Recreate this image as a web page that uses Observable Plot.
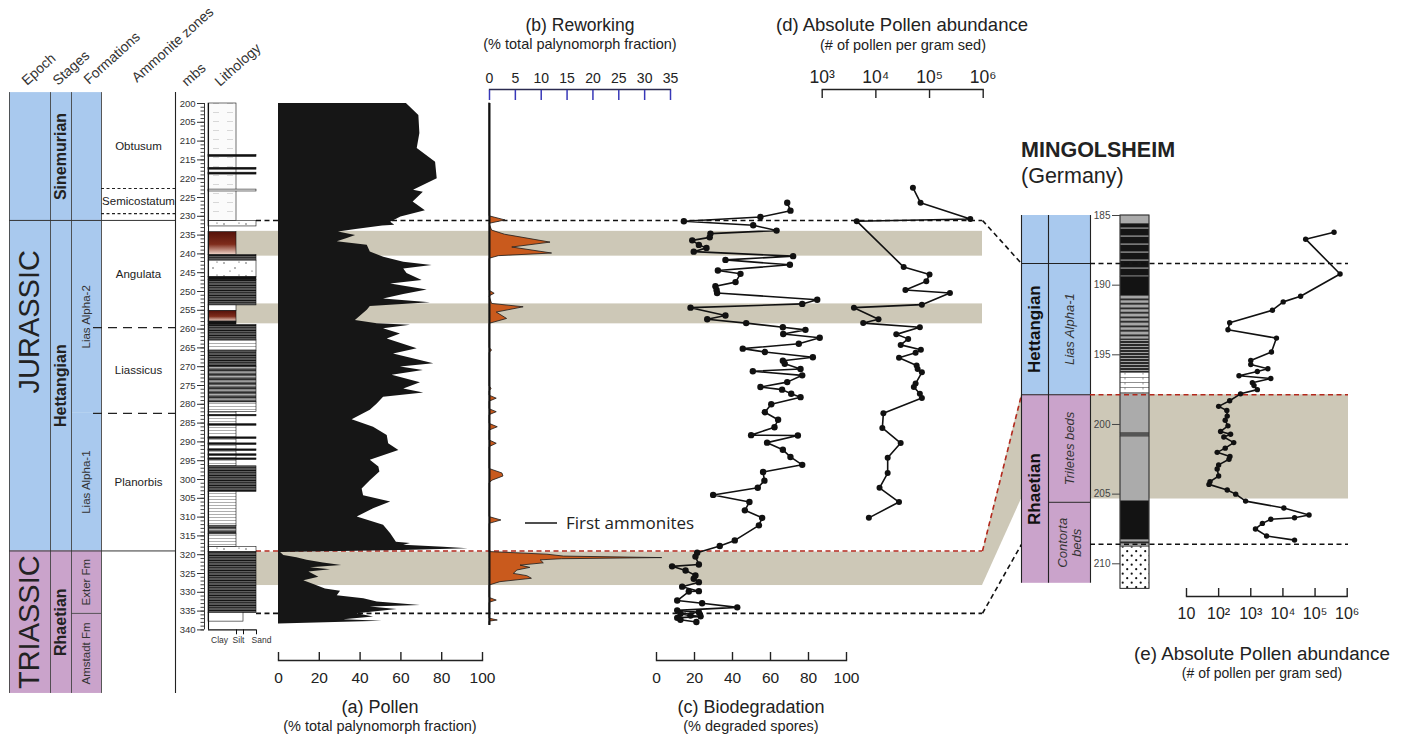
<!DOCTYPE html>
<html><head><meta charset="utf-8">
<script src="https://cdn.jsdelivr.net/npm/d3@7"></script>
<script src="https://cdn.jsdelivr.net/npm/@observablehq/plot@0.6"></script>
<style>
html,body{margin:0;padding:0;background:#fff;overflow:hidden}
#root{position:relative;width:1405px;height:735px;font-family:'Liberation Sans',Arial,sans-serif}
#root svg{position:absolute;left:0;top:0;max-width:none}
</style></head>
<body>
<svg width="0" height="0" style="position:absolute">
<defs>
 <linearGradient id="redGrad" x1="0" y1="0" x2="0" y2="1">
  <stop offset="0" stop-color="#55120a"/><stop offset="0.55" stop-color="#7e2c1b"/><stop offset="1" stop-color="#efd6ca"/>
 </linearGradient>
 <pattern id="claystone" patternUnits="userSpaceOnUse" width="14" height="9">
  <rect width="14" height="9" fill="#fbfbfb"/><line x1="3" x2="9" y1="4.5" y2="4.5" stroke="#c8c8c8" stroke-width="0.7"/>
 </pattern>
 <pattern id="sandDots" patternUnits="userSpaceOnUse" width="22" height="13">
  <rect width="22" height="13" fill="#fff"/><circle cx="4" cy="3" r="0.7" fill="#333"/><circle cx="15" cy="8" r="0.7" fill="#333"/><circle cx="10" cy="11" r="0.6" fill="#333"/><circle cx="19" cy="2" r="0.6" fill="#333"/>
 </pattern>
 <pattern id="darkStripes" patternUnits="userSpaceOnUse" width="12" height="5">
  <rect width="12" height="5" fill="#151515"/><rect y="1.4" width="12" height="0.8" fill="#8c8c8c"/><rect y="3.7" width="12" height="0.6" fill="#eeeeee"/>
 </pattern>
 <pattern id="midStripes" patternUnits="userSpaceOnUse" width="12" height="4.5">
  <rect width="12" height="4.5" fill="#6e6e6e"/><rect y="0.5" width="12" height="1.2" fill="#161616"/><rect y="3" width="12" height="0.6" fill="#dddddd"/>
 </pattern>
 <pattern id="lightStripes" patternUnits="userSpaceOnUse" width="12" height="3">
  <rect width="12" height="3" fill="#ffffff"/><rect y="1" width="12" height="0.8" fill="#9a9a9a"/>
 </pattern>
 <pattern id="mBlackGray" patternUnits="userSpaceOnUse" width="10" height="8">
  <rect width="10" height="8" fill="#151515"/><rect y="3.5" width="10" height="1.2" fill="#a0a0a0"/>
 </pattern>
 <pattern id="mStripes" patternUnits="userSpaceOnUse" width="10" height="4.5">
  <rect width="10" height="4.5" fill="#a9a9a9"/><rect y="1.5" width="10" height="1.6" fill="#141414"/>
 </pattern>
 <pattern id="mStripesDense" patternUnits="userSpaceOnUse" width="10" height="3">
  <rect width="10" height="3" fill="#2a2a2a"/><rect y="1" width="10" height="0.9" fill="#b0b0b0"/>
 </pattern>
 <pattern id="mMarl" patternUnits="userSpaceOnUse" width="18" height="5">
  <rect width="18" height="5" fill="#fff"/><line x1="0" x2="18" y1="2.5" y2="2.5" stroke="#444" stroke-width="0.6"/><line x1="9" x2="9" y1="2.5" y2="4.5" stroke="#444" stroke-width="0.6"/>
 </pattern>
 <pattern id="mSand" patternUnits="userSpaceOnUse" width="9" height="9">
  <rect width="9" height="9" fill="#fff"/><circle cx="2.2" cy="2.2" r="1.1" fill="#111"/><circle cx="6.7" cy="6.7" r="1.1" fill="#111"/>
 </pattern>
</defs></svg>
<div id="root"></div>
<script>
const W = 1405, H = 735;
const FONT = "'Liberation Sans', Arial, sans-serif";

// ---------------- DATA ----------------
const epochs = [
  {name: "JURASSIC", top: 197.1, base: 319.0, era: "J"},
  {name: "TRIASSIC", top: 319.0, base: 356.9, era: "T"}
];
const stages = [
  {name: "Sinemurian", top: 197.1, base: 231.1, era: "J"},
  {name: "Hettangian", top: 231.1, base: 319.0, era: "J"},
  {name: "Rhaetian", top: 319.0, base: 356.9, era: "T"}
];
const formations = [
  {name: "", top: 197.1, base: 231.1, era: "J"},
  {name: "Lias Alpha-2", top: 231.1, base: 282.4, era: "J"},
  {name: "Lias Alpha-1", top: 282.4, base: 319.0, era: "J"},
  {name: "Exter Fm", top: 319.0, base: 335.6, era: "T"},
  {name: "Amstadt Fm", top: 335.6, base: 356.9, era: "T"}
];
const ammoniteZones = [
  {name: "Obtusum", top: 200.0, base: 222.6},
  {name: "Semicostatum", top: 222.6, base: 229.3},
  {name: "Angulata", top: 231.1, base: 259.6},
  {name: "Liassicus", top: 259.6, base: 282.4},
  {name: "Planorbis", top: 282.4, base: 319.0}
];
const zoneBoundaries = [
  {d: 222.6, kind: "short"}, {d: 229.3, kind: "short"}, {d: 231.1, kind: "solid"},
  {d: 259.6, kind: "long"}, {d: 282.4, kind: "long"}, {d: 319.0, kind: "solid"}
];
const formationBoundaries = [{d: 335.6}];
const depthTicks = [200,205,210,215,220,225,230,235,240,245,250,255,260,265,270,275,280,285,290,295,300,305,310,315,320,325,330,335,340];

const mainBeds = [
  {top: 200.0, base: 231.2, size: "clay", type: "claystone"},
  {top: 213.7, base: 214.2, size: "sand", type: "black"},
  {top: 217.1, base: 217.6, size: "sand", type: "black"},
  {top: 218.4, base: 218.9, size: "sand", type: "black"},
  {top: 222.9, base: 223.4, size: "sand", type: "white"},
  {top: 231.3, base: 232.7, size: "sand", type: "sand"},
  {top: 234.2, base: 240.3, size: "clay", type: "red"},
  {top: 240.3, base: 241.8, size: "sand", type: "darkStripes"},
  {top: 241.8, base: 246.2, size: "sand", type: "sand"},
  {top: 246.2, base: 247.0, size: "sand", type: "black"},
  {top: 247.0, base: 253.7, size: "sand", type: "darkStripes"},
  {top: 253.7, base: 255.2, size: "clay", type: "white"},
  {top: 255.2, base: 258.0, size: "clay", type: "red"},
  {top: 258.0, base: 258.9, size: "clay", type: "black"},
  {top: 258.9, base: 263.0, size: "sand", type: "darkStripes"},
  {top: 263.0, base: 265.9, size: "sand", type: "lightStripes"},
  {top: 265.9, base: 270.0, size: "sand", type: "darkStripes"},
  {top: 270.0, base: 279.5, size: "sand", type: "midStripes"},
  {top: 279.5, base: 282.0, size: "sand", type: "lightStripes"},
  {top: 282.0, base: 296.5, size: "clay", type: "lightStripes"},
  {top: 282.8, base: 283.2, size: "sand", type: "black"},
  {top: 285.3, base: 285.7, size: "sand", type: "black"},
  {top: 288.8, base: 289.2, size: "sand", type: "black"},
  {top: 290.4, base: 290.8, size: "sand", type: "black"},
  {top: 292.0, base: 292.4, size: "sand", type: "black"},
  {top: 293.3, base: 293.7, size: "sand", type: "black"},
  {top: 294.4, base: 294.8, size: "sand", type: "black"},
  {top: 296.5, base: 303.3, size: "sand", type: "darkStripes"},
  {top: 303.3, base: 312.3, size: "clay", type: "lightStripes"},
  {top: 312.3, base: 314.6, size: "clay", type: "midStripes"},
  {top: 314.6, base: 318.0, size: "clay", type: "lightStripes"},
  {top: 318.0, base: 319.3, size: "sand", type: "sand"},
  {top: 319.3, base: 335.5, size: "sand", type: "darkStripes"},
  {top: 335.5, base: 337.8, size: "silt", type: "white"}
];
const grainLabels = ["Clay", "Silt", "Sand"];

const bands = [{top: 234.0, base: 240.6}, {top: 253.3, base: 258.6}, {top: 319.3, base: 328.2}];
const correlations = [
  {main: 231.1, ming: 188.45, kind: "black"},
  {main: 319.0, ming: 197.87, kind: "red"},
  {main: 335.6, ming: 208.6, kind: "black"}
];
const bandLink = {mainTop: 319.3, mainBase: 328.2, mingTop: 197.87, mingBase: 205.35};

// (a) pollen % : [depth mbs, %]
const pollen = [[200,62.7],[203.2,68.8],[208,69.3],[212,68],[215.6,77],[220,77.8],[223.1,66.2],[223.6,71],[226.2,66],[228.5,72],[230.2,60],[231.6,55],[232.4,57],[232.6,51],[233.5,38],[234.2,29.4],[235.1,37.8],[235.9,33.7],[236.8,28.8],[237.7,43.5],[239.5,45],[240.9,51.6],[242.2,61.4],[243.1,75.3],[244,61.4],[245.2,63],[247.1,70.4],[248,55],[249.6,72.9],[250.8,61.4],[252,51.5],[253,74.5],[254,45],[255,43.5],[257.7,37.7],[258.6,48.4],[259,64.7],[259.9,51.5],[261.3,59.8],[262.6,53.3],[265.2,68],[266.6,56.4],[269.2,76.1],[270.1,59.8],[271,71],[272.3,55.7],[274.3,69.6],[275.9,61.4],[277,71.2],[278.1,51.5],[279.9,48.4],[281.6,45],[284.1,36.1],[286.1,46.6],[288.3,53.3],[290.5,54],[292.3,59],[294.9,45],[296.7,49.2],[298,49.7],[300.3,45],[302.5,41],[304.3,41.7],[306,55],[307.8,46.6],[310,38.6],[312.2,51.5],[314.4,55],[316.7,57.8],[317,64.7],[317.5,61.4],[318,81],[318.4,93],[318.9,61],[319.4,1],[320.2,2.6],[320.8,9],[321.5,14],[322.2,22],[322.9,31],[323.5,15.7],[324,25.5],[324.6,14.9],[326,19.8],[326.9,12.4],[327.9,17.3],[329.1,23],[329.7,30.4],[330.9,28.8],[331.7,41.8],[332.6,48.4],[333.5,69.6],[333.9,45],[334.6,58.2],[335.7,38.6],[336.6,46.6],[337.3,32],[337.7,50.8],[338.4,0]];

// (b) reworking % : [depth, %]
const reworking = [[200,0],[230,0],[231.1,3.1],[232,0],[233.8,0.5],[234.9,3],[237,11.8],[238.3,4.4],[239.9,12.1],[240.6,1.8],[241.3,0],[249.8,0],[250.6,1],[251.3,0],[253.3,0.5],[254.2,6.6],[255.6,1.4],[257.3,3.4],[258.6,0],[265,0],[265.7,0.5],[266.4,0],[275.2,0],[275.9,0.4],[276.6,0],[277.7,0],[278.5,1.4],[279.3,0],[281.3,0],[282.1,1.4],[282.9,0],[285.2,0],[286.1,1.6],[287,0],[289.6,0],[290.5,1.4],[291.4,0],[297.2,0],[298.4,2.5],[299.2,2.7],[300.3,0.6],[301,0],[310,0],[310.9,2.3],[311.8,0],[319.3,0],[320,11.2],[320.5,14.4],[320.9,33.4],[321.2,14],[321.5,9.9],[322.3,10.5],[322.9,6],[323.5,7.9],[324.2,5.4],[325.1,4.7],[325.7,7.3],[326.4,8.2],[327.3,2.1],[328.2,0],[331.5,0],[332.2,1.4],[332.8,0],[337,0],[337.5,1.6],[337.8,0],[338.8,0]];

// (c) biodegradation % : [depth, %]
const biodegradation = [[226.4,68.8],[228.5,70.5],[230.2,54.7],[231.3,14.4],[232.4,50.9],[233.8,63.2],[234.6,28.4],[235.6,28],[236.4,18.8],[237.6,22.3],[238.4,26.3],[239.4,19.6],[240.6,71.9],[241.6,36.3],[242.9,70.2],[244.4,32.3],[245.3,44.2],[247.5,41.6],[248.6,31],[249.6,31.6],[250.4,31.9],[252.2,84.6],[253.3,76.7],[254.3,17.9],[256.4,36.3],[257.4,26.7],[258.4,47.2],[259.5,66.5],[260.2,78.4],[261.3,66.7],[262.3,85.9],[263.9,74.9],[265.2,45.4],[266.1,57],[267.5,82.3],[268.4,66.5],[269.2,67.5],[270.6,75.8],[271.2,50.7],[272.3,76.7],[274.1,68.8],[275.4,54.7],[276.1,66.1],[277.2,70.9],[278.1,75.8],[280,60.4],[282.1,57],[284.1,64],[286.1,62.1],[288.2,49.8],[288.3,74.4],[290.2,58.2],[292.1,66.5],[294,70.5],[296.1,76.7],[298,56.1],[300.3,56.8],[302.2,53.3],[304.1,29.8],[306,48.9],[308.2,46.5],[310.2,55.6],[312.2,53.9],[316.2,41.2],[317.7,33.3],[319.5,21.4],[320.5,20.5],[322.6,22.3],[323.1,8.2],[324.2,15.3],[325.5,20.5],[326.4,19.6],[327.3,22.3],[328.5,13.5],[329.7,22.3],[329.8,17],[332.2,10.9],[332.9,24],[334,42.5],[334.8,10.9],[335.3,22.3],[335.7,12.6],[336.2,17.9],[336.4,23.2],[336.8,10.9],[337.3,12.6],[337.9,21]];

// (d) absolute pollen abundance (grains / g) : [depth, value]
const absolutePollen = [[222.4,49000],[226.4,68000],[230.7,575000],[231.3,4400],[243.5,33000],[245.5,100000],[247.3,87000],[249.6,35500],[250.4,240000],[253.5,72000],[254.3,3900],[257.4,11200],[258.4,5800],[259.5,66000],[261.4,24000],[262.6,40000],[264.2,29000],[265.5,69000],[266.3,55000],[267.6,27000],[269.7,57500],[270.6,60000],[271.5,72000],[274.5,55000],[275.4,51000],[277.2,66000],[278.3,72000],[282.4,13800],[286.3,13200],[290.3,29000],[294.2,16600],[298.3,16600],[302.2,11700],[306.0,27000],[310.2,7400]];

// Mingolsheim
const mingStages = [
  {name: "", top: 185, base: 188.45, era: "J"},
  {name: "Hettangian", top: 188.45, base: 197.87, era: "J"},
  {name: "Rhaetian", top: 197.87, base: 211.4, era: "T"}
];
const mingFormations = [
  {name: "", top: 185, base: 188.45, era: "J"},
  {name: "Lias Alpha-1", top: 188.45, base: 197.87, era: "J"},
  {name: "Triletes beds", top: 197.87, base: 205.58, era: "T"},
  {name: "Contorta\nbeds", top: 205.58, base: 211.4, era: "T"}
];
const mingBoundaries = [{d: 188.45, level: "stage"}, {d: 197.87, level: "stage"}, {d: 205.58, level: "formation"}];
const mingTicks = [185, 190, 195, 200, 205, 210];
const mingBeds = [
  {top: 185.0, base: 185.6, type: "gray"},
  {top: 185.6, base: 189.4, type: "blackGray"},
  {top: 189.4, base: 190.8, type: "black"},
  {top: 190.8, base: 193.9, type: "stripes"},
  {top: 193.9, base: 196.3, type: "stripesDense"},
  {top: 196.3, base: 197.8, type: "marl"},
  {top: 197.8, base: 200.6, type: "gray"},
  {top: 200.6, base: 200.9, type: "darkGray"},
  {top: 200.9, base: 205.5, type: "gray"},
  {top: 205.5, base: 208.3, type: "black"},
  {top: 208.3, base: 208.8, type: "stripes"},
  {top: 208.8, base: 211.8, type: "sand"}
];
const mingBands = [{top: 197.87, base: 205.35}];
// (e) absolute pollen abundance, Mingolsheim : [depth, value]
const absolutePollenMing = [[186.2,390000],[186.7,51000],[189.2,600000],[190.8,35500],[191.2,10200],[191.8,4700],[192.7,220],[193.2,195],[193.8,6300],[194.8,4400],[195.4,1000],[195.7,1000],[196.0,3400],[196.2,1600],[196.5,430],[196.7,4200],[197.0,1120],[197.2,1260],[197.5,1600],[197.8,480],[198.3,220],[198.7,100],[199.0,180],[199.4,185],[199.7,160],[200.1,195],[200.5,115],[200.7,235],[200.9,145],[201.3,295],[201.7,160],[202.0,90],[202.3,225],[202.5,210],[202.9,100],[203.2,90],[203.7,100],[204.1,54],[204.3,50],[204.7,185],[205.0,340],[205.5,690],[206.0,10700],[206.5,65000],[206.7,23000],[206.8,4200],[207.1,2300],[207.5,1400],[208.0,3100],[208.3,23000]];

// ---------------- LAYOUT & STYLE ----------------
const L = {
  epoch: [9, 50], stage: [50, 71], formation: [71, 101], zone: [101, 175],
  depthAxisX: 204,
  litho: {left: 208, clay: 236, silt: 243, sand: 256},
  bandLeft: 236, lineLeft: 256, bandRight: 982,
  pollen: [278, 482], rework: [489, 670], bio: [656, 846], abund: [821.7, 982.7],
  mingStage: [1021, 1048], mingFormation: [1048, 1090], mingLitho: [1120, 1149],
  mingBandLeft: 1090, mingBandRight: 1348, abundE: [1186, 1346.7],
  mainY: [103, 629.4], mingY: [215, 563.3],
  bottomAxis: 660, topAxis: 89, eAxis: 596
};
const C = {J: "#a9c9ee", T: "#caa3cb", band: "#cdc8b7", orange: "#c95a1d", red: "#b3281c", black: "#161616", ink: "#222"};
const LITHO_FILL = {claystone: "url(#claystone)", black: "#121212", white: "#ffffff", sand: "url(#sandDots)", red: "url(#redGrad)",
  darkStripes: "url(#darkStripes)", midStripes: "url(#midStripes)", lightStripes: "url(#lightStripes)"};
const MING_FILL = {gray: "#ababab", darkGray: "#555", blackGray: "url(#mBlackGray)", black: "#131313", stripes: "url(#mStripes)",
  stripesDense: "url(#mStripesDense)", marl: "url(#mMarl)", sand: "url(#mSand)"};
const SUP = ["⁰","¹","²","³","⁴","⁵","⁶"];
const logFmt = v => { const e = Math.round(Math.log10(v)); return e === 1 ? "10" : "10" + SUP[e]; };
const rows = a => a.map(([d, v]) => ({d, v}));
const mid = r => (r[0] + r[1]) / 2;
const mainDepth = {domain: [200, 340], range: L.mainY, label: null};
const mingDepth = {domain: [185, 210], range: L.mingY, label: null};

const root = document.getElementById("root");
function add(opts) {
  const el = Plot.plot({width: W, height: H, style: {background: "transparent", fontFamily: FONT, overflow: "visible"}, ...opts});
  root.appendChild(el);
  return el;
}
const dashColor = d => d.kind === "red" ? C.red : "#111";

// ---- connectors between the two sections ----
const yMainS = Plot.scale({y: {domain: mainDepth.domain, range: mainDepth.range}});
const yMingS = Plot.scale({y: {domain: mingDepth.domain, range: mingDepth.range}});
const linkArea = [
  {x: L.bandRight, y1: yMainS.apply(bandLink.mainTop), y2: yMainS.apply(bandLink.mainBase)},
  {x: L.mingStage[0], y1: yMingS.apply(bandLink.mingTop), y2: yMingS.apply(bandLink.mingBase)}
];
add({margin: 0, x: {type: "identity", axis: null}, y: {type: "identity", axis: null}, color: {type: "identity"},
  marks: [
    Plot.areaY(linkArea, {x: "x", y1: "y1", y2: "y2", fill: C.band}),
    Plot.link(correlations, {x1: L.bandRight, x2: L.mingStage[0], y1: d => yMainS.apply(d.main), y2: d => yMingS.apply(d.ming),
      stroke: dashColor, strokeWidth: 1.6, strokeDasharray: "5,3.5"})
  ]});

// ---- main section: bands, horizons, strat columns, lithology, depth axis ----
const colTop = d3.min(epochs, d => d.top), colBase = d3.max(epochs, d => d.base);
const label = (data, col, o) => Plot.text(data.filter(d => d.name), {x: mid(col), y: d => (d.top + d.base) / 2, text: "name", fill: C.ink, ...o});
add({marginLeft: L.depthAxisX, marginTop: L.mainY[0], marginBottom: H - L.mainY[1], marginRight: 0,
  x: {type: "identity", axis: null}, y: {...mainDepth, axis: null}, color: {type: "identity"},
  marks: [
    Plot.rect(bands, {x1: L.bandLeft, x2: L.bandRight, y1: "top", y2: "base", fill: C.band}),
    Plot.ruleY(correlations, {y: "main", x1: L.lineLeft, x2: L.bandRight, stroke: dashColor, strokeWidth: 1.6, strokeDasharray: "5,3.5"}),
    Plot.rect(epochs, {x1: L.epoch[0], x2: L.epoch[1], y1: "top", y2: "base", fill: d => C[d.era]}),
    Plot.rect(stages, {x1: L.stage[0], x2: L.stage[1], y1: "top", y2: "base", fill: d => C[d.era]}),
    Plot.rect(formations, {x1: L.formation[0], x2: L.formation[1], y1: "top", y2: "base", fill: d => C[d.era]}),
    Plot.ruleX([L.epoch[0], L.stage[0], L.formation[0], L.zone[0]], {y1: colTop, y2: colBase, stroke: "#444", strokeWidth: 0.9}),
    Plot.ruleX([L.zone[1]], {y1: colTop, y2: colBase, stroke: "#222", strokeWidth: 1.1}),
    Plot.ruleY(zoneBoundaries.filter(d => d.kind === "solid"), {y: "d", x1: L.epoch[0], x2: L.zone[1], stroke: "#333", strokeWidth: 1}),
    Plot.ruleY(zoneBoundaries.filter(d => d.kind === "short"), {y: "d", x1: L.zone[0], x2: L.zone[1], stroke: "#222", strokeWidth: 1.1, strokeDasharray: "3,2.5"}),
    Plot.ruleY(zoneBoundaries.filter(d => d.kind === "long"), {y: "d", x1: L.zone[0] - 8, x2: L.zone[1], stroke: "#222", strokeWidth: 1.3, strokeDasharray: "9,6"}),
    Plot.ruleY(formationBoundaries, {y: "d", x1: L.formation[0], x2: L.formation[1], stroke: "#444", strokeWidth: 0.9}),
    label(epochs, L.epoch, {rotate: -90, fontSize: 29}),
    label(stages, L.stage, {rotate: -90, fontSize: 16, fontWeight: "bold"}),
    label(formations, L.formation, {rotate: -90, fontSize: 11.5, fill: "#333"}),
    label(ammoniteZones, L.zone, {fontSize: 11.5}),
    // lithology
    Plot.rect(mainBeds, {x1: L.litho.left, x2: d => L.litho[d.size], y1: "top", y2: "base", fill: d => LITHO_FILL[d.type], stroke: "#111", strokeWidth: 0.6}),
    Plot.ruleX([L.litho.left], {y1: 200, y2: 340, stroke: "#111", strokeWidth: 1.1}),
    Plot.ruleY([340], {x1: L.litho.left, x2: L.litho.sand, stroke: "#111", strokeWidth: 1.1}),
    Plot.ruleX([L.litho.clay, L.litho.silt, L.litho.sand], {y1: 340, y2: 341.3, stroke: "#111", strokeWidth: 1}),
    Plot.text(grainLabels, {x: [L.litho.left + 11, L.litho.silt - 5, L.litho.sand + 5], y: 342.8, text: d => d, fontSize: 8.5, fill: "#333"}),
    // depth axis
    Plot.ruleX([L.depthAxisX], {y1: 200, y2: 340, stroke: "#333", strokeWidth: 1}),
    Plot.axisY({anchor: "left", ticks: d3.range(200, 341, 1), tickSize: 3.5, tickFormat: () => "", label: null, color: "#444"}),
    Plot.axisY({anchor: "left", ticks: depthTicks, tickSize: 7, tickPadding: 2, fontSize: 9.5, label: null, color: "#333"})
  ]});

// ---- (a) pollen ----
const xTicks100 = [0, 20, 40, 60, 80, 100];
function bottomAxis(ticks, fmt, fs) {
  return [
    Plot.frame({anchor: "bottom", strokeWidth: 1.4, stroke: "#222"}),
    Plot.axisX({anchor: "bottom", ticks, tickSize: 8, dy: -8, tickFormat: () => "", label: null, strokeWidth: 1.4, color: "#222"}),
    Plot.axisX({anchor: "bottom", ticks, tickSize: 0, tickPadding: 11, tickFormat: fmt, fontSize: fs, label: null, color: "#222"})
  ];
}
add({marginLeft: L.pollen[0], marginRight: W - L.pollen[1], marginTop: L.mainY[0], marginBottom: H - L.bottomAxis,
  x: {domain: [0, 100], label: null}, y: {...mainDepth, axis: null},
  marks: [
    Plot.areaX(rows(pollen), {y: "d", x1: 0, x2: "v", fill: C.black}),
    ...bottomAxis(xTicks100, d => d, 15.5)
  ]});

// ---- (b) reworking ----
const reworkTicks = [0, 5, 10, 15, 20, 25, 30, 35];
add({marginLeft: L.rework[0], marginRight: W - L.rework[1], marginTop: L.topAxis, marginBottom: H - L.bottomAxis,
  x: {domain: [0, 35], label: null}, y: {...mainDepth, axis: null},
  marks: [
    Plot.areaX(rows(reworking), {y: "d", x1: 0, x2: "v", fill: C.orange, stroke: "#1a1a1a", strokeWidth: 0.8}),
    Plot.ruleX([0], {y1: 200, y2: 338.8, stroke: "#111", strokeWidth: 2}),
    Plot.frame({anchor: "top", stroke: "#2b2b50", strokeWidth: 1.3}),
    Plot.axisX({anchor: "top", ticks: reworkTicks, tickSize: 10, dy: 10, tickFormat: () => "", label: null, color: "#3838b8", strokeWidth: 1.5}),
    Plot.axisX({anchor: "top", ticks: reworkTicks, tickSize: 0, tickPadding: 7, fontSize: 14, label: null, color: "#222"})
  ]});

// ---- (c) biodegradation ----
add({marginLeft: L.bio[0], marginRight: W - L.bio[1], marginTop: L.mainY[0], marginBottom: H - L.bottomAxis,
  x: {domain: [0, 100], label: null}, y: {...mainDepth, axis: null},
  marks: [
    Plot.line(rows(biodegradation), {x: "v", y: "d", stroke: "#111", strokeWidth: 1.6}),
    Plot.dot(rows(biodegradation), {x: "v", y: "d", r: 3.2, fill: "#111"}),
    ...bottomAxis(xTicks100, d => d, 15.5)
  ]});

// ---- (d) absolute pollen abundance ----
const absTicks = [1e3, 1e4, 1e5, 1e6];
add({marginLeft: L.abund[0], marginRight: W - L.abund[1], marginTop: L.topAxis, marginBottom: H - L.bottomAxis,
  x: {type: "log", domain: [1e3, 1e6], label: null}, y: {...mainDepth, axis: null},
  marks: [
    Plot.line(rows(absolutePollen), {x: "v", y: "d", stroke: "#111", strokeWidth: 1.6}),
    Plot.dot(rows(absolutePollen), {x: "v", y: "d", r: 3, fill: "#111"}),
    Plot.frame({anchor: "top", stroke: "#222", strokeWidth: 1.4}),
    Plot.axisX({anchor: "top", ticks: absTicks, tickSize: 8, dy: 8, tickFormat: () => "", label: null, color: "#222", strokeWidth: 1.4}),
    Plot.axisX({anchor: "top", ticks: absTicks, tickSize: 0, tickPadding: 7, tickFormat: logFmt, fontSize: 17.5, label: null, color: "#222"})
  ]});

// ---- Mingolsheim section ----
add({marginLeft: L.mingLitho[0], marginTop: L.mingY[0], marginBottom: H - L.mingY[1], marginRight: 0,
  x: {type: "identity", axis: null}, y: {...mingDepth, axis: null}, color: {type: "identity"},
  marks: [
    Plot.rect(mingBands, {x1: L.mingBandLeft, x2: L.mingBandRight, y1: "top", y2: "base", fill: C.band}),
    Plot.rect(mingStages, {x1: L.mingStage[0], x2: L.mingStage[1], y1: "top", y2: "base", fill: d => C[d.era]}),
    Plot.rect(mingFormations, {x1: L.mingFormation[0], x2: L.mingFormation[1], y1: "top", y2: "base", fill: d => C[d.era]}),
    Plot.ruleX([L.mingStage[0], L.mingStage[1], L.mingFormation[1]], {y1: 185, y2: 211.4, stroke: "#222", strokeWidth: 1.1}),
    Plot.ruleY(mingBoundaries, {y: "d", x1: d => d.level === "stage" ? L.mingStage[0] : L.mingFormation[0], x2: L.mingFormation[1], stroke: "#222", strokeWidth: 1.1}),
    label(mingStages, L.mingStage, {rotate: -90, fontSize: 17, fontWeight: "bold", fill: "#111"}),
    label(mingFormations, L.mingFormation, {rotate: -90, fontSize: 13, fontStyle: "italic", fill: "#333", lineHeight: 1.1}),
    Plot.rect(mingBeds, {x1: L.mingLitho[0], x2: L.mingLitho[1], y1: "top", y2: "base", fill: d => MING_FILL[d.type], stroke: "#555", strokeWidth: 0.4}),
    Plot.rect([mingBeds], {x1: L.mingLitho[0], x2: L.mingLitho[1], y1: d => d3.min(d, b => b.top), y2: d => d3.max(d, b => b.base), fill: "none", stroke: "#333", strokeWidth: 1}),
    Plot.ruleY(correlations, {y: "ming", x1: L.mingBandLeft, x2: L.mingBandRight, stroke: dashColor, strokeWidth: 1.6, strokeDasharray: "5,3.5"}),
    Plot.axisY({anchor: "left", ticks: mingTicks, tickSize: 8, tickPadding: 2, fontSize: 10, label: null, color: "#444"})
  ]});

// ---- (e) absolute pollen abundance, Mingolsheim ----
const absTicksE = [1e1, 1e2, 1e3, 1e4, 1e5, 1e6];
add({marginLeft: L.abundE[0], marginRight: W - L.abundE[1], marginTop: L.mingY[0], marginBottom: H - L.eAxis,
  x: {type: "log", domain: [10, 1e6], label: null}, y: {...mingDepth, axis: null},
  marks: [
    Plot.line(rows(absolutePollenMing), {x: "v", y: "d", stroke: "#111", strokeWidth: 1.6}),
    Plot.dot(rows(absolutePollenMing), {x: "v", y: "d", r: 2.7, fill: "#111"}),
    ...bottomAxis(absTicksE, logFmt, 16)
  ]});

// ---- titles, headers and legend ----
const titles = [
  {text: "(b) Reworking", x: 580, y: 31, size: 17.5},
  {text: "(% total palynomorph fraction)", x: 580, y: 49, size: 14.5},
  {text: "(d) Absolute Pollen abundance", x: 902, y: 31, size: 18.5},
  {text: "(# of pollen per gram sed)", x: 903, y: 50, size: 14.5},
  {text: "(a) Pollen", x: 380, y: 713, size: 18},
  {text: "(% total palynomorph fraction)", x: 380, y: 731, size: 14.5},
  {text: "(c) Biodegradation", x: 751, y: 713, size: 18},
  {text: "(% degraded spores)", x: 751, y: 731, size: 14.5},
  {text: "(e) Absolute Pollen abundance", x: 1262, y: 660, size: 18.8},
  {text: "(# of pollen per gram sed)", x: 1262, y: 678, size: 14},
  {text: "MINGOLSHEIM", x: 1021, y: 157, size: 21.5, anchor: "start", weight: "bold"},
  {text: "(Germany)", x: 1021, y: 183, size: 21.5, anchor: "start"}
];
const headers = ["Epoch", "Stages", "Formations", "Ammonite zones", "mbs", "Lithology"];
const headerPos = [[27, 86], [58, 86], [89, 85], [137, 83], [187, 87], [220, 87]];
const ann = d3.create("svg").attr("width", W).attr("height", H).style("font-family", FONT);
for (const t of titles) {
  ann.append("text").attr("x", t.x).attr("y", t.y).attr("text-anchor", t.anchor || "middle")
    .attr("font-size", t.size).attr("font-weight", t.weight || "normal").attr("fill", "#222").text(t.text);
}
headers.forEach((h, i) => {
  ann.append("text").attr("transform", `translate(${headerPos[i][0]},${headerPos[i][1]}) rotate(-42)`)
    .attr("font-size", 14).attr("fill", "#333").text(h);
});
ann.append("line").attr("x1", 525).attr("x2", 557).attr("y1", 523).attr("y2", 523).attr("stroke", "#222").attr("stroke-width", 1.6);
ann.append("text").attr("x", 566).attr("y", 529).attr("font-size", 17).attr("font-family", "'Open Sans', sans-serif").attr("fill", "#222").text("First ammonites");
root.appendChild(ann.node());
</script>
</body></html>
